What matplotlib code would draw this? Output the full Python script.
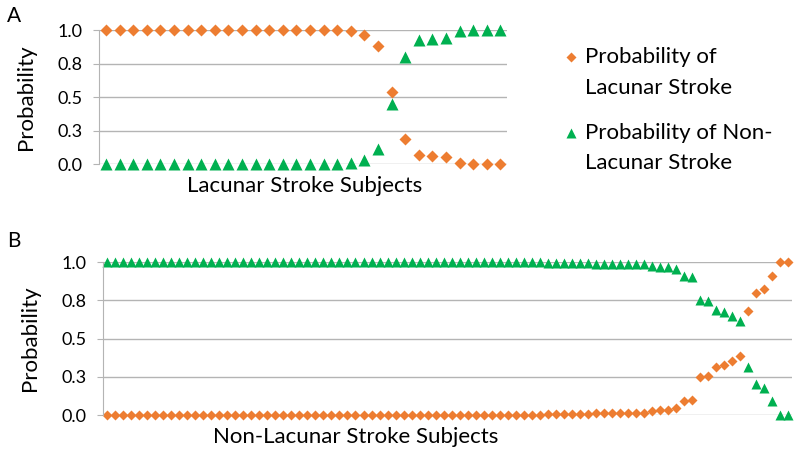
import matplotlib.pyplot as plt
from matplotlib.lines import Line2D
import numpy as np

plt.rcParams['font.family'] = ['Lato', 'DejaVu Sans']

ORANGE = '#ED7D31'
GREEN = '#00B050'
GRID = '#B4B4B4'

# Panel A: lacunar stroke subjects (30)
lac_lacunar = [1.0] * 18 + [0.99, 0.96, 0.88, 0.54, 0.19, 0.07, 0.057, 0.052,
                            0.005, 0.0, 0.0, 0.0]
lac_nonlacunar = [0.0] * 18 + [0.005, 0.03, 0.11, 0.45, 0.80, 0.925, 0.93,
                               0.94, 0.99, 1.0, 1.0, 1.0]

# Panel B: non-lacunar stroke subjects (86)
non_lacunar = ([0.0] * 46 + [0.002] * 9 + [0.005] * 6
               + [0.01, 0.01, 0.01, 0.012, 0.013, 0.013, 0.015, 0.026, 0.03,
                  0.033, 0.043, 0.093, 0.096, 0.248, 0.252, 0.313, 0.324,
                  0.354, 0.383, 0.683, 0.80, 0.822, 0.911, 1.0, 1.0])
non_nonlacunar = [1 - v for v in non_lacunar]
non_nonlacunar[79] = 0.617
non_nonlacunar[80] = 0.317

yticks = [0.0, 0.25, 0.5, 0.75, 1.0]
yticklabels = ['0.0', '0.3', '0.5', '0.8', '1.0']


def style_axes(ax, n):
    ax.set_xlim(0, n)
    ax.set_ylim(0, 1)
    ax.set_yticks(yticks)
    ax.set_yticklabels(yticklabels, fontsize=13)
    ax.set_xticks([])
    for s in ['top', 'right', 'bottom']:
        ax.spines[s].set_visible(False)
    ax.spines['left'].set_color(GRID)
    ax.tick_params(axis='y', length=4, color=GRID, pad=8)
    ax.grid(axis='y', color=GRID, linewidth=1)
    ax.set_axisbelow(True)


fig = plt.figure(figsize=(8, 4.62), dpi=100)

axA = fig.add_axes([0.124, 0.645, 0.51, 0.29])
xa = np.arange(len(lac_lacunar)) + 0.5
axA.plot(xa, lac_lacunar, 'D', color=ORANGE, ms=6.2, mec='none', clip_on=False)
axA.plot(xa, lac_nonlacunar, '^', color=GREEN, ms=8, mec='none', clip_on=False)
style_axes(axA, len(lac_lacunar))

axB = fig.add_axes([0.129, 0.1017, 0.861, 0.331])
xb = np.arange(len(non_lacunar)) + 0.5
axB.plot(xb, non_nonlacunar, '^', color=GREEN, ms=7, mec='none', clip_on=False)
axB.plot(xb, non_lacunar, 'D', color=ORANGE, ms=5.5, mec='none', clip_on=False)
style_axes(axB, len(non_lacunar))

fs = 16
fig.text(7 / 800, 1 - 16 / 462, 'A', fontsize=15, va='center')
fig.text(7 / 800, 1 - 241 / 462, 'B', fontsize=15, va='center')
fig.text(26 / 800, 1 - 97 / 462, 'Probability', fontsize=fs, rotation=90,
         ha='center', va='center')
fig.text(30 / 800, 1 - 338 / 462, 'Probability', fontsize=fs, rotation=90,
         ha='center', va='center')
fig.text(305 / 800, 1 - 186 / 462, 'Lacunar Stroke Subjects', fontsize=fs,
         ha='center', va='center')
fig.text(213 / 800, 1 - 437 / 462, 'Non-Lacunar Stroke Subjects', fontsize=fs,
         ha='left', va='center')

# legend
fig.add_artist(Line2D([571 / 800], [1 - 57 / 462], marker='D', color=ORANGE,
                      ms=5.5, mec='none', transform=fig.transFigure))
fig.add_artist(Line2D([571 / 800], [1 - 133 / 462], marker='^', color=GREEN,
                      ms=7, mec='none', transform=fig.transFigure))
for y, t in [(57, 'Probability of'), (88, 'Lacunar Stroke'),
             (133, 'Probability of Non-'), (163, 'Lacunar Stroke')]:
    fig.text(585 / 800, 1 - y / 462, t, fontsize=fs, va='center')

fig.savefig('out.png', dpi=100)
